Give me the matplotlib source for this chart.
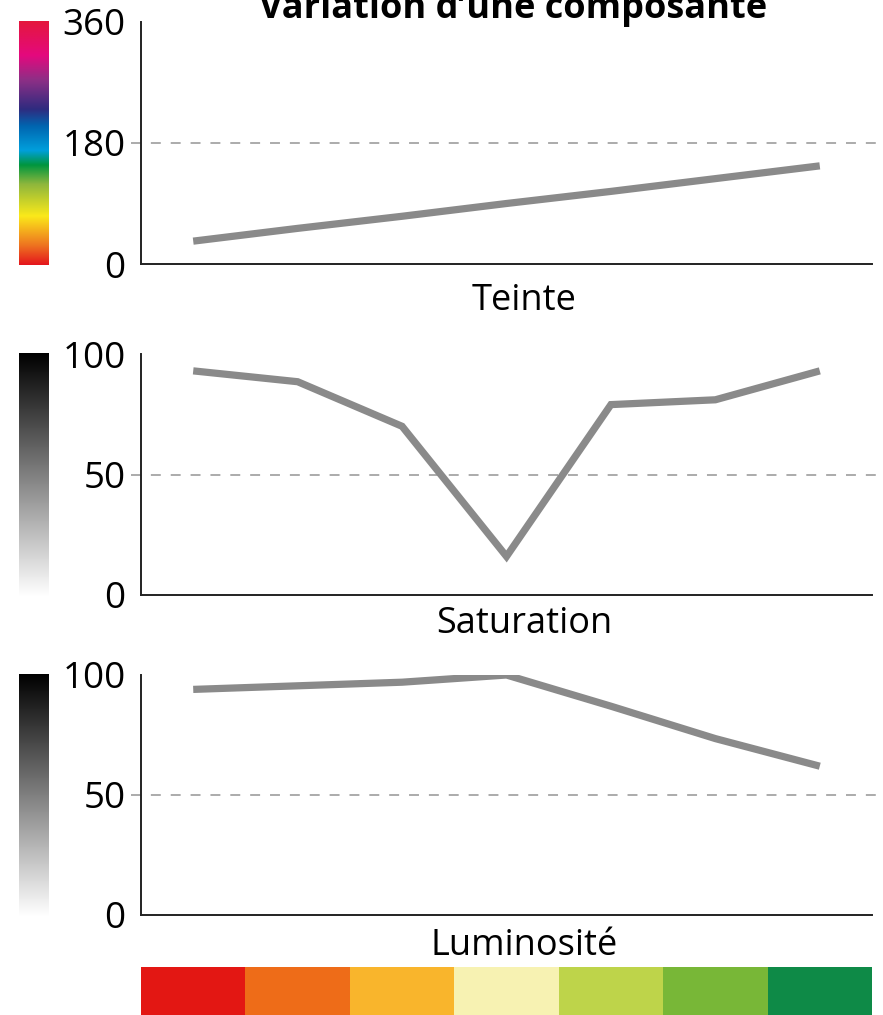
import numpy as np
import matplotlib
matplotlib.use("Agg")
import matplotlib.pyplot as plt
from matplotlib.colors import LinearSegmentedColormap

plt.rcParams['font.family'] = ['Open Sans', 'DejaVu Sans']

# data (7 colours, one point per colour)
steps = np.arange(7)
teinte = [34, 53, 71, 90, 108, 127, 146]
saturation = [93, 88.5, 70, 16, 79, 81, 93]
luminosite = [94, 95.5, 97, 100, 87, 73.5, 62]
swatches = ['#e31713', '#ee6c18', '#f9b52c', '#f7f2b2', '#bed44a', '#78b737', '#0e8a47']

panels = [
    ("Teinte", teinte, 360, 180),
    ("Saturation", saturation, 100, 50),
    ("Luminosité", luminosite, 100, 50),
]

W, H = 883, 1015
fig = plt.figure(figsize=(W / 100, H / 100), dpi=100)

def px_axes(x0, y_top, x1, y_bot):
    # rect in pixels (top-left origin) -> figure fraction
    return fig.add_axes([x0 / W, 1 - y_bot / H, (x1 - x0) / W, (y_bot - y_top) / H])

hue_cmap = LinearSegmentedColormap.from_list("hue", [
    (0.00, '#e4171d'), (0.08, '#ee7420'), (0.20, '#fbe91a'), (0.33, '#8fb73c'),
    (0.41, '#00963f'), (0.47, '#009fdc'), (0.57, '#0065b0'), (0.64, '#2f2b7f'),
    (0.76, '#8e2f86'), (0.86, '#e4097e'), (1.00, '#e4173d')])
grey_cmap = LinearSegmentedColormap.from_list("grey", ['#ffffff', '#000000'])

tops = [22, 354, 675]
bots = [264, 595, 915]
label_y = [301, 624, 946]

line_col = '#8a8a8a'
grid_col = '#959595'

for (name, vals, ymax, ymid), top, bot, ly in zip(panels, tops, bots, label_y):
    ax = px_axes(141, top, 872, bot)
    ax.plot(steps, vals, color=line_col, lw=5.2, solid_capstyle='butt', solid_joinstyle='miter', zorder=3)
    ax.axhline(ymid, xmin=-0.014, xmax=1.007, color=grid_col, lw=1.1, dashes=(6.5, 6.5), clip_on=False, zorder=1)
    ax.set_xlim(-0.5, 6.5)
    ax.set_ylim(0, ymax)
    ax.set_xticks([])
    ax.set_yticks([0, ymid, ymax])
    ax.set_yticklabels(['0', str(ymid), str(ymax)])
    ax.tick_params(axis='y', length=0, pad=11, labelsize=26.5)
    for s in ['top', 'right']:
        ax.spines[s].set_visible(False)
    for s in ['left', 'bottom']:
        ax.spines[s].set_linewidth(1.4)
        ax.spines[s].set_color('#222222')
    ax.patch.set_alpha(0)
    fig.text(524 / W, 1 - ly / H, name, ha='center', va='center', fontsize=26)

    # colour bar on the left
    cax = px_axes(19, top - 1, 49, bot + 1)
    grad = np.linspace(0, 1, 256).reshape(-1, 1)
    cax.imshow(grad, aspect='auto', origin='lower', cmap=hue_cmap if name == "Teinte" else grey_cmap)
    cax.set_axis_off()

# swatches along the bottom
sax = px_axes(141, 967, 872, 1015 + 5)
sax.bar(steps, [1] * 7, width=1.0, color=swatches)
sax.set_xlim(-0.5, 6.5)
sax.set_ylim(0, 1)
sax.set_axis_off()

# title is cropped at the top edge in the original
fig.text(513 / W, 1 - 18 / H, "Variation d\u2019une composante", ha='center', va='baseline',
         fontsize=26, fontweight='bold')

fig.savefig("out.png", dpi=100)
